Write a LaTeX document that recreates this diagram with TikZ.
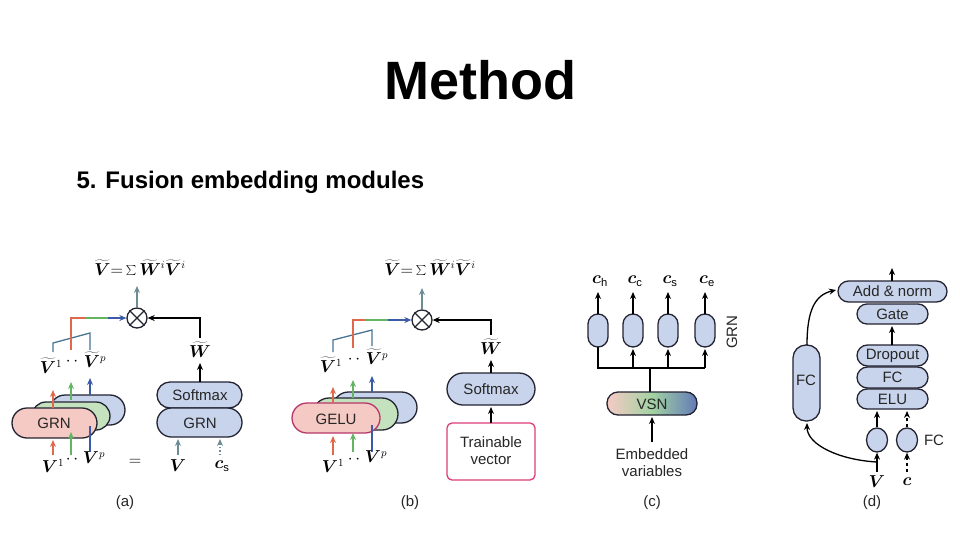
\documentclass[tikz,border=0pt]{standalone}
\usepackage{fontspec}
\usepackage{bm}
\setmainfont{Liberation Sans}
\usetikzlibrary{arrows.meta,shapes.geometric}
\definecolor{bfill}{RGB}{200,212,236}
\definecolor{rfill}{RGB}{246,202,196}
\definecolor{gfill}{RGB}{196,226,190}
\definecolor{bord}{RGB}{35,35,50}
\definecolor{cr}{RGB}{225,105,75}
\definecolor{cg}{RGB}{100,180,100}
\definecolor{cb}{RGB}{60,90,165}
\definecolor{cgb}{RGB}{110,140,150}
\definecolor{pk}{RGB}{220,60,120}
\tikzset{
 box/.style={draw=bord,line width=1.3pt,fill=bfill},
 ar/.style={-{Stealth[length=7pt,width=6pt]},line width=1.3pt},
 lbl/.style={font=\fontsize{15}{17}\selectfont,text=black!85},
 ml/.style={font=\fontsize{16}{18}\selectfont}
}
\newcommand{\rbox}[6]{% name, x1,y1,x2,y2, fill
 \path[box,fill=#6,rounded corners={min(#5-#3,#4-#2)*0.5pt}] (#2,#3) rectangle (#4,#5);
 \coordinate (#1) at ({(#2+#4)/2},{(#3+#5)/2});}
\begin{document}
\begin{tikzpicture}[x=1pt,y=-1pt]
\useasboundingbox (0,0) rectangle (960,535);
\fill[white] (0,0) rectangle (960,535);
\node[font=\fontsize{54}{58}\selectfont\bfseries] (title) at (480,80) {Method};
\node[font=\fontsize{24}{28}\selectfont\bfseries,anchor=west] (sub) at (73,182) {5. Fusion embedding modules};

% ===== (a)
\node[ml] (eqa) at (140,268) {$\widetilde{\bm V}{=}\sum\widetilde{\bm W}^{i}\widetilde{\bm V}^{i}$};
\node[draw=bord,line width=1.3pt,circle,minimum size=20pt,inner sep=0pt] (oa) at (137,318) {};
\draw[bord,line width=1.2pt] (oa.north west)--(oa.south east) (oa.north east)--(oa.south west);
\draw[ar,cgb] (oa.north)--(137,286);
\rbox{ab}{50}{395}{125}{425}{bfill}
\rbox{ag}{32}{402}{110}{430}{gfill}
\rbox{ar}{12}{408}{97}{438}{rfill}
\node[lbl] (tga) at (54,423) {GRN};
\draw[ar,cr] (53,455)--(53,440);
\draw[ar,cg] (71,455)--(71,432);
\draw[line width=1.3pt,cb] (90,452)--(90,426);
\draw[ar,cr] (53,408)--(53,390);
\draw[ar,cg] (71,400)--(71,382);
\draw[ar,cb] (90,395)--(90,378);
\node[ml] (v1a) at (53,466) {$\bm V^{1}$};
\node[ml] (dda) at (72,460) {$\cdot\,\cdot$};
\node[ml] (vpa) at (94,458) {$\bm V^{p}$};
\node[ml] (tv1a) at (51,366) {$\widetilde{\bm V}^{1}$};
\node[ml] (tdda) at (72,362) {$\cdot\,\cdot$};
\node[ml] (tvpa) at (95,360) {$\widetilde{\bm V}^{p}$};
\draw[line width=1.3pt,cb!70!cg] (53,352)--(53,343)--(90,333)--(90,350);
\draw[line width=1.3pt,cr] (71,350)--(71,318)--(85,318);
\draw[ar,cb] (85,318)--(oa.west);
\draw[line width=1.3pt,cg] (85,318)--(108,318);
\node[ml] (eq) at (135,462) {$=$};
\rbox{asm}{157}{382}{242}{408}{bfill}
\rbox{agr}{157}{408}{242}{437}{bfill}
\node[lbl] (tsm) at (200,395) {Softmax};
\node[lbl] (tgr) at (200,423) {GRN};
\draw[ar,cgb] (178,455)--(178,439);
\draw[ar,cgb,dotted] (220,455)--(220,439);
\node[ml] (va) at (178,466) {$\bm V$};
\node[ml] (csa) at (222,466) {$\bm c_{\mathrm s}$};
\draw[ar] (200,382)--(200,363);
\node[ml] (wa) at (200,350) {$\widetilde{\bm W}$};
\draw[ar] (200,338)--(200,318)--(oa.east);
\node[lbl] (la) at (125,503) {(a)};

% ===== (b)
\node[ml] (eqb) at (430,268) {$\widetilde{\bm V}{=}\sum\widetilde{\bm W}^{i}\widetilde{\bm V}^{i}$};
\node[draw=bord,line width=1.3pt,circle,minimum size=20pt,inner sep=0pt] (ob) at (422,320) {};
\draw[bord,line width=1.2pt] (ob.north west)--(ob.south east) (ob.north east)--(ob.south west);
\draw[ar,cgb] (ob.north)--(422,288);
\rbox{bb}{333}{392}{417}{423}{bfill}
\rbox{bg}{313}{398}{398}{430}{gfill}
\path[box,fill=rfill,draw=pk!80!bord,rounded corners=15pt] (292,403) rectangle (380,433);
\node[lbl] (tgb) at (336,419) {GELU};
\draw[ar,cr] (333,455)--(333,436);
\draw[ar,cg] (353,452)--(353,433);
\draw[line width=1.3pt,cb] (372,452)--(372,425);
\draw[ar,cr] (333,403)--(333,387);
\draw[ar,cg] (353,398)--(353,380);
\draw[ar,cb] (372,392)--(372,376);
\node[ml] (v1b) at (333,466) {$\bm V^{1}$};
\node[ml] (ddb) at (354,460) {$\cdot\,\cdot$};
\node[ml] (vpb) at (376,457) {$\bm V^{p}$};
\node[ml] (tv1b) at (331,365) {$\widetilde{\bm V}^{1}$};
\node[ml] (tddb) at (354,360) {$\cdot\,\cdot$};
\node[ml] (tvpb) at (377,357) {$\widetilde{\bm V}^{p}$};
\draw[line width=1.3pt,cb!70!cg] (333,352)--(333,340)--(372,330)--(372,346);
\draw[line width=1.3pt,cr] (353,348)--(353,320)--(365,320);
\draw[line width=1.3pt,cg] (365,320)--(388,320);
\draw[ar,cb] (388,320)--(ob.west);
\rbox{bsm}{447}{373}{535}{405}{bfill}
\node[lbl] (tbs) at (491,389) {Softmax};
\draw[draw=pk,line width=1.3pt,fill=white,rounded corners=5pt] (447,423) rectangle (535,480);
\node[lbl,align=center] (tv) at (491,451) {Trainable\\vector};
\draw[ar] (491,423)--(491,407);
\draw[ar] (491,373)--(491,360);
\node[ml] (wb) at (491,347) {$\widetilde{\bm W}$};
\draw[ar] (491,335)--(491,320)--(ob.east);
\node[lbl] (lb) at (410,503) {(b)};

% ===== (c)
\foreach \x/\s [count=\i] in {598/h,633/c,668/s,705/e}{
 \path[box,rounded corners=10pt] (\x-10,314) rectangle (\x+10,347);
 \draw[ar] (\x,314)--(\x,292);
 \node[ml] (c\i) at (\x+2,281) {$\bm c_{\mathrm \s}$};
}
\draw[line width=1.3pt] (598,347)--(598,368)--(705,368);
\foreach \x in {633,668,705} \draw[ar] (\x,368)--(\x,349);
\draw[line width=1.3pt] (650,392)--(650,368);
\shade[left color=rfill,right color=cb!80,middle color=cg!60,rounded corners=11pt] (607,392) rectangle (697,415);
\draw[bord,line width=1.3pt,rounded corners=11pt] (607,392) rectangle (697,415);
\node[lbl] (vsn) at (652,404) {VSN};
\draw[ar] (652,442)--(652,417);
\node[lbl,align=center] (emb) at (652,463) {Embedded\\variables};
\node[lbl,rotate=90] (grnc) at (732,332) {GRN};
\node[lbl] (lc) at (652,503) {(c)};

% ===== (d)
\rbox{dan}{838}{281}{947}{302}{bfill}
\rbox{dga}{857}{304}{928}{324}{bfill}
\rbox{ddr}{857}{345}{928}{366}{bfill}
\rbox{dfc}{857}{367}{928}{388}{bfill}
\rbox{del}{857}{389}{928}{409}{bfill}
\node[lbl] at (dan) {Add \& norm};
\node[lbl] at (dga) {Gate};
\node[lbl] at (ddr) {Dropout};
\node[lbl] at (dfc) {FC};
\node[lbl] at (del) {ELU};
\draw[ar] (892,281)--(892,268);
\draw[ar] (892,345)--(892,326);
\path[box,rounded corners=13pt] (793,345) rectangle (820,421);
\node[lbl] (fcl) at (806,380) {FC};
\node[box,ellipse,minimum width=21pt,minimum height=24pt,inner sep=0pt] (cv) at (877,440) {};
\node[box,ellipse,minimum width=21pt,minimum height=24pt,inner sep=0pt] (cc) at (907,440) {};
\draw[ar] (cv.north)--(877,411);
\draw[ar,dashed] (cc.north)--(907,411);
\node[lbl] (fcs) at (934,440) {FC};
\draw[ar] (877,472)--(cv.south);
\draw[ar,dashed] (907,472)--(cc.south);
\node[ml] (vd) at (877,482) {$\bm V$};
\node[ml] (cd) at (907,482) {$\bm c$};
\draw[ar] (877,462) .. controls (840,460) and (807,445) .. (807,423);
\draw[ar] (807,345) .. controls (807,310) and (815,295) .. (836,290);
\node[lbl] (ld) at (872,503) {(d)};
\end{tikzpicture}
\end{document}
